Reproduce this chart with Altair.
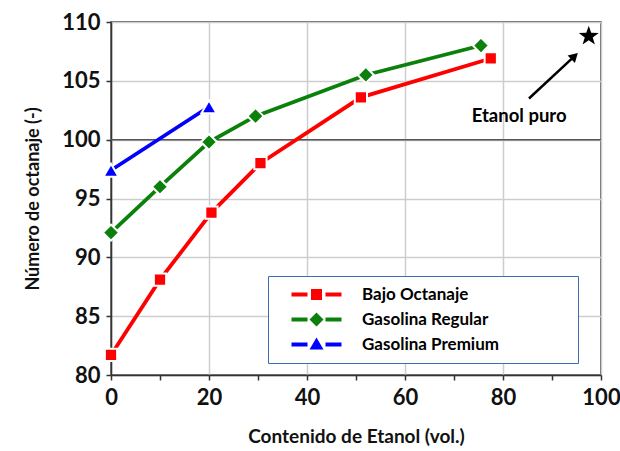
import altair as alt
import pandas as pd

series = ["Bajo Octanaje", "Gasolina Regular", "Gasolina Premium"]
colors = ["#ff0000", "#0b800b", "#0000ff"]
shapes = ["square", "diamond", "triangle-up"]
marker_sizes = [150, 260, 230]

bajo_x = [0, 10, 20.5, 30.5, 51, 77.5]
bajo_y = [81.7, 88.1, 93.8, 98.0, 103.6, 106.9]
regular_x = [0, 10, 20, 29.5, 52, 75.5]
regular_y = [92.1, 96.0, 99.8, 102.0, 105.5, 108.0]
premium_x = [0, 20]
premium_y = [97.4, 102.8]

etanol_x = [97.5]
etanol_y = [108.8]
arrow_x = [85.3, 94.6]
arrow_y = [103.5, 107.1]
note_text = ["Etanol puro"]
note_x = [83.3]
note_y = [102.0]

x_ticks = [0, 10, 20, 30, 40, 50, 60, 70, 80, 90, 100]
y_ticks = [80, 82.5, 85, 87.5, 90, 92.5, 95, 97.5, 100, 102.5, 105, 107.5, 110]
ref_y = [100]

STAR = ("M0,-1L0.235,-0.324L0.951,-0.309L0.38,0.124L0.588,0.809L0,0.4"
        "L-0.588,0.809L-0.38,0.124L-0.951,-0.309L-0.235,-0.324Z")

SEG = "M-5,-0.38L-1.8,-0.38L-1.8,0.38L-5,0.38Z M1.8,-0.38L5,-0.38L5,0.38L1.8,0.38Z "
legend_paths = [
    SEG + "M-1.1,-1.1L1.1,-1.1L1.1,1.1L-1.1,1.1Z",
    SEG + "M0,-1.4L1.4,0L0,1.4L-1.4,0Z",
    SEG + "M0,-1.4L1.4,1.0L-1.4,1.0Z",
]

rows = []
for s, c, sh, sz, xs, ys in zip(series, colors, shapes, marker_sizes,
                                [bajo_x, regular_x, premium_x],
                                [bajo_y, regular_y, premium_y]):
    for i, (xv, yv) in enumerate(zip(xs, ys)):
        rows.append({"serie": s, "x": xv, "y": yv, "color": c, "shape": sh,
                     "size": sz, "order": i})
df = pd.DataFrame(rows)

FONT = "Lato"

xscale = alt.Scale(domain=[0, 100], nice=False)
yscale = alt.Scale(domain=[80, 110], nice=False)

xaxis = alt.Axis(values=x_ticks, format="d", labelFont=FONT, labelFontSize=22,
                 labelFontWeight="bold", labelColor="#111", labelFlush=False,
                 labelExpr="datum.value % 20 == 0 ? datum.label : ''",
                 tickSize=5, tickColor="#333", tickWidth=1.5,
                 domainColor="#333", domainWidth=1.5, labelPadding=7,
                 title="Contenido de Etanol (vol.)", titleFont=FONT, titleFontSize=19,
                 titleFontWeight="bold", titleColor="#111", titlePadding=19,
                 gridColor="#cdcdcd", gridWidth=1.5,
                 gridOpacity={"condition": {"test": "datum.value % 20 == 0", "value": 1}, "value": 0})
yaxis = alt.Axis(values=y_ticks, format="d", labelFont=FONT, labelFontSize=22,
                 labelFontWeight="bold", labelColor="#111", labelFlush=False,
                 labelExpr="datum.value % 5 == 0 ? datum.label : ''",
                 tickSize={"condition": {"test": "datum.value % 5 == 0", "value": 5}, "value": 3},
                 tickColor="#333", tickWidth=1.5,
                 domainColor="#333", domainWidth=1.5, labelPadding=6,
                 title="Número de octanaje (-)", titleFont=FONT, titleFontSize=18,
                 titleFontWeight="bold", titleColor="#111", titlePadding=19,
                 gridColor="#cdcdcd", gridWidth=1.5,
                 gridOpacity={"condition": {"test": "datum.value % 5 == 0", "value": 1}, "value": 0})

X = alt.X("x:Q", scale=xscale, axis=xaxis)
Y = alt.Y("y:Q", scale=yscale, axis=yaxis)

base = alt.Chart(df)

ref = alt.Chart(pd.DataFrame({"y": ref_y})).mark_rule(color="#555", strokeWidth=1.5).encode(
    y=alt.Y("y:Q", scale=yscale))

lines = base.mark_line(strokeWidth=3.8).encode(
    x=X, y=Y, detail="serie:N", order="order:Q",
    color=alt.Color("color:N", scale=None))

points = base.mark_point(filled=True, stroke="white", strokeWidth=2, opacity=1).encode(
    x=X, y=Y,
    shape=alt.Shape("shape:N", scale=None),
    size=alt.Size("size:Q", scale=None),
    color=alt.Color("color:N", scale=None))

leg = alt.Legend(title=" ", titleOrient="right", titlePadding=69, titleFontSize=4,
                 orient="none", legendX=157, legendY=254, symbolSize=100,
                 symbolStrokeWidth=0, symbolOpacity=1, labelFont=FONT, labelFontSize=17,
                 labelFontWeight="bold", labelColor="black", padding=10, symbolOffset=30,
                 labelOffset=37, rowPadding=7, strokeColor="#3a6db4", fillColor="white",
                 cornerRadius=0, labelLimit=500)

legend_layer = base.mark_point(filled=True, opacity=0).encode(
    x=X, y=Y,
    shape=alt.Shape("serie:N", scale=alt.Scale(domain=series, range=legend_paths), legend=leg),
    color=alt.Color("serie:N", scale=alt.Scale(domain=series, range=colors), legend=leg))

arrow_df = pd.DataFrame({"x": arrow_x, "y": arrow_y})
arrow_line = alt.Chart(arrow_df).mark_line(color="black", strokeWidth=2.5).encode(
    x=alt.X("x:Q", scale=xscale), y=alt.Y("y:Q", scale=yscale))
arrow_head = alt.Chart(arrow_df.tail(1)).mark_point(
    shape="triangle-up", filled=True, size=110, color="black", opacity=1, angle=46).encode(
    x=alt.X("x:Q", scale=xscale), y=alt.Y("y:Q", scale=yscale))

star = alt.Chart(pd.DataFrame({"x": etanol_x, "y": etanol_y})).mark_point(
    shape=STAR, filled=True, size=440, color="black", opacity=1).encode(
    x=alt.X("x:Q", scale=xscale), y=alt.Y("y:Q", scale=yscale))

note = alt.Chart(pd.DataFrame({"x": note_x, "y": note_y, "t": note_text})).mark_text(
    font=FONT, fontSize=18.5, fontWeight="bold", color="black").encode(
    x=alt.X("x:Q", scale=xscale), y=alt.Y("y:Q", scale=yscale), text="t:N")

chart = alt.layer(ref, lines, points, arrow_line, arrow_head, star, note, legend_layer).resolve_scale(
    shape="independent", color="independent"
).properties(
    width=490, height=353,
    autosize=alt.AutoSizeParams(type="none"),
    padding={"left": 111, "top": 22, "right": 19, "bottom": 76},
    background="white",
).configure_view(stroke="#333", strokeWidth=1.5)

chart.save("out.html", embed_options={"renderer": "svg", "actions": False})
